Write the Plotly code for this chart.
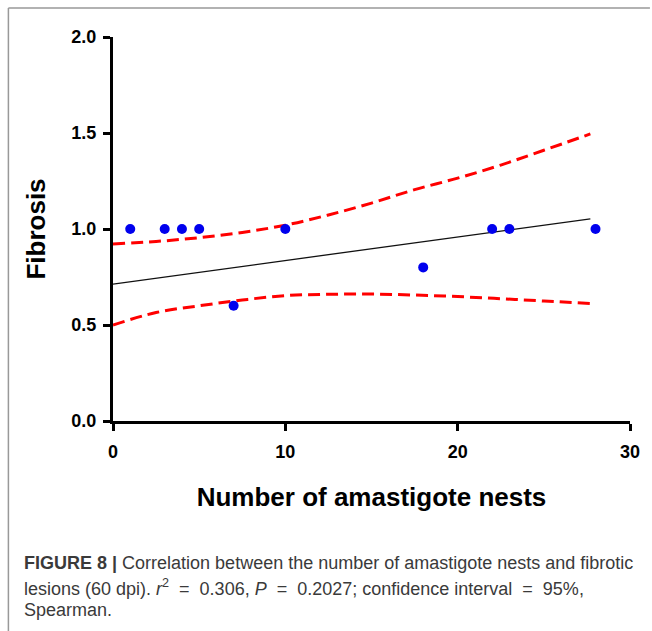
import plotly.graph_objects as go

# Data
nests = [1, 3, 4, 5, 7, 10, 18, 22, 23, 28]
fibrosis = [1.0, 1.0, 1.0, 1.0, 0.6, 1.0, 0.8, 1.0, 1.0, 1.0]

fit_x = [0, 27.7]
fit_y = [0.713, 1.053]

band_x = [0, 2.5, 5, 7.5, 10, 12.5, 15, 17.5, 20, 22.5, 25, 27.7]
band_upper = [0.922, 0.935, 0.955, 0.982, 1.02, 1.073, 1.135, 1.205, 1.265, 1.333, 1.41, 1.495]
band_lower = [0.50, 0.565, 0.60, 0.63, 0.653, 0.66, 0.661, 0.656, 0.648, 0.637, 0.625, 0.612]

x_ticks = [0, 10, 20, 30]
y_ticks = [0.0, 0.5, 1.0, 1.5, 2.0]

W, H = 652, 631
L, R, T, B = 113, 20, 37, 210
PW, PH = W - L - R, H - T - B


def px_x(p):
    return (p - L) / PW


def px_y(p):
    return 1 - (p - T) / PH


FONT = "Liberation Sans, Arial, sans-serif"
red = "#ff0000"

fig = go.Figure()
fig.add_trace(go.Scatter(x=band_x, y=band_upper, mode="lines",
                         line=dict(color=red, width=3, dash="12px,6px", shape="spline", smoothing=1),
                         hoverinfo="skip"))
fig.add_trace(go.Scatter(x=band_x, y=band_lower, mode="lines",
                         line=dict(color=red, width=3, dash="12px,6px", shape="spline", smoothing=1),
                         hoverinfo="skip"))
fig.add_trace(go.Scatter(x=fit_x, y=fit_y, mode="lines",
                         line=dict(color="#111111", width=1.3)))
fig.add_trace(go.Scatter(x=nests, y=fibrosis, mode="markers",
                         marker=dict(color="#0000ee", size=10, line=dict(width=0))))

fig.update_layout(
    width=W, height=H,
    margin=dict(l=L, r=R, t=T, b=B),
    paper_bgcolor="white", plot_bgcolor="white",
    showlegend=False,
    font=dict(family=FONT, color="black"),
)
fig.update_xaxes(
    range=[0, 30], tickvals=x_ticks, ticktext=[str(v) for v in x_ticks],
    showgrid=False, zeroline=False, showline=True, linecolor="black", linewidth=3,
    ticks="outside", ticklen=7, tickwidth=3, tickcolor="black",
    ticklabelstandoff=5,
    tickfont=dict(family=FONT, size=18, color="black", weight="bold"),
    title=dict(text="Number of amastigote nests", standoff=28,
               font=dict(family=FONT, size=26, color="black", weight="bold")),
)
fig.update_yaxes(
    range=[0, 2], tickvals=y_ticks, ticktext=[f"{v:.1f}" for v in y_ticks],
    showgrid=False, zeroline=False, showline=True, linecolor="black", linewidth=3,
    ticks="outside", ticklen=7, tickwidth=3, tickcolor="black",
    ticklabelstandoff=3,
    tickfont=dict(family=FONT, size=18, color="black", weight="bold"),
    title=dict(text="Fibrosis", standoff=19,
               font=dict(family=FONT, size=26, color="black", weight="bold")),
)

# page frame lines (left and top)
fig.add_shape(type="line", xref="paper", yref="paper",
              x0=px_x(8), x1=px_x(8), y0=px_y(8), y1=px_y(631),
              line=dict(color="#999999", width=1.5))
fig.add_shape(type="line", xref="paper", yref="paper",
              x0=px_x(8), x1=px_x(652), y0=px_y(8), y1=px_y(8),
              line=dict(color="#999999", width=1.5))

EQ = "&nbsp;&nbsp;=&nbsp;&nbsp;"
caption_lines = [
    "<b>FIGURE 8 |</b> Correlation between the number of amastigote nests and fibrotic",
    f"lesions (60 dpi). <i>r</i><sup>2</sup>{EQ}0.306, <i>P</i>{EQ}0.2027; confidence interval{EQ}95%,",
    "Spearman.",
]
caption_y = [563, 587, 610]
for txt, yy in zip(caption_lines, caption_y):
    fig.add_annotation(text=txt, xref="paper", yref="paper",
                       x=px_x(22), y=px_y(yy), xanchor="left", yanchor="middle",
                       showarrow=False, align="left",
                       font=dict(family=FONT, size=18, color="#3a3a3a"))

fig.write_html("out.html")
